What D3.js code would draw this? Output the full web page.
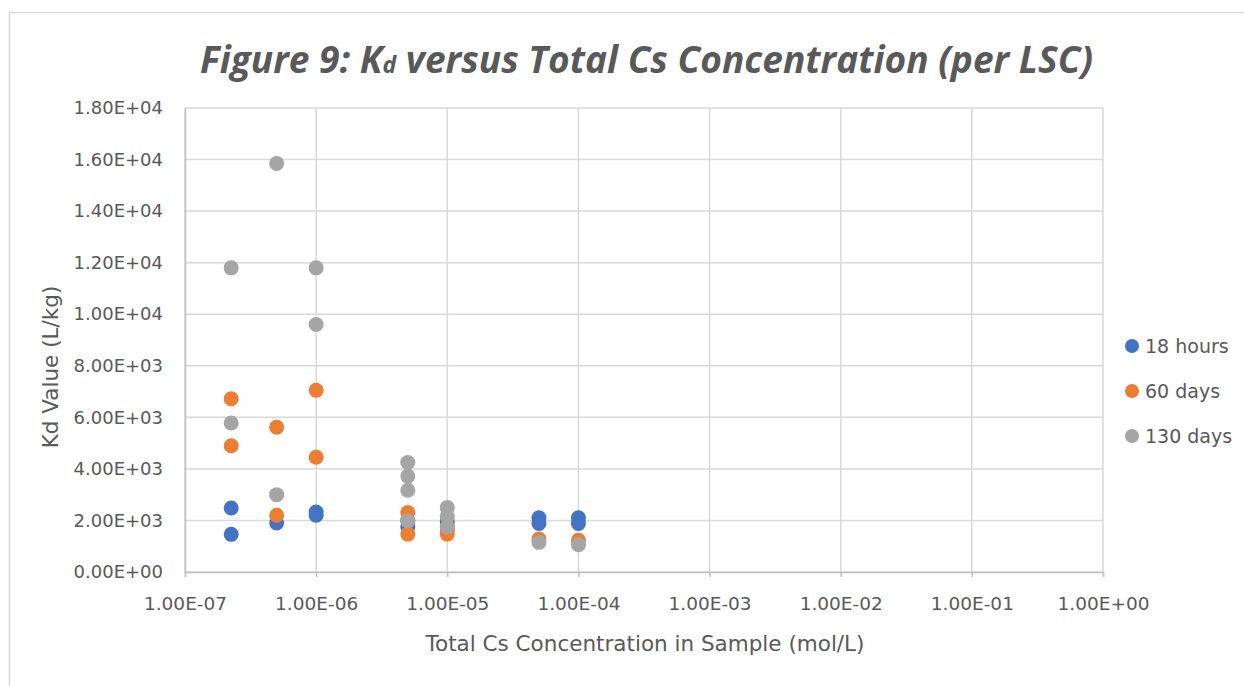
<!DOCTYPE html>
<html><head><meta charset="utf-8">
<script src="https://cdn.jsdelivr.net/npm/d3@7"></script>
<style>body{margin:0;background:#fff;} svg{display:block;}</style>
</head><body>
<svg id="chart" width="1244" height="686"></svg>
<script>
// ---- data ----
const xTicks = [1e-7, 1e-6, 1e-5, 1e-4, 1e-3, 1e-2, 1e-1, 1e0];
const xTickLabels = ["1.00E-07","1.00E-06","1.00E-05","1.00E-04","1.00E-03","1.00E-02","1.00E-01","1.00E+00"];
const yTicks = [0,2000,4000,6000,8000,10000,12000,14000,16000,18000];
const yTickLabels = ["0.00E+00","2.00E+03","4.00E+03","6.00E+03","8.00E+03","1.00E+04","1.20E+04","1.40E+04","1.60E+04","1.80E+04"];
const seriesNames = ["18 hours","60 days","130 days"];
const seriesColors = ["#4472C4","#ED7D31","#A5A5A5"];

const hours18X = [2.25e-7,2.25e-7,5e-7,1e-6,1e-6,5e-6,5e-6,1e-5,1e-5,5e-5,5e-5,1e-4,1e-4];
const hours18Y = [2480,1460,1900,2330,2200,1750,2000,1950,1750,2100,1880,2100,1880];
const days60X  = [2.25e-7,2.25e-7,5e-7,5e-7,1e-6,1e-6,5e-6,5e-6,1e-5,1e-5,5e-5,1e-4];
const days60Y  = [6720,4900,5620,2200,7050,4450,2310,1470,1470,1600,1280,1230];
const days130X = [2.25e-7,2.25e-7,5e-7,5e-7,1e-6,1e-6,5e-6,5e-6,5e-6,5e-6,1e-5,1e-5,1e-5,5e-5,1e-4];
const days130Y = [11800,5780,15850,3000,11800,9600,4250,3720,3170,1980,2500,2150,1750,1150,1060];

const title = "Figure 9: K";
const titleSub = "d";
const titleRest = " versus Total Cs Concentration (per LSC)";
const xTitle = "Total Cs Concentration in Sample (mol/L)";
const yTitle = "Kd Value (L/kg)";

// ---- layout ----
const svg = d3.select("#chart");
const L = 185, R = 1103, T = 108, B = 572;
const x = d3.scaleLog().domain([1e-7, 1]).range([L, R]);
const y = d3.scaleLinear().domain([0, 18000]).range([B, T]);
const textColor = "#595959";
const font = "'DejaVu Sans', sans-serif";
const titleFont = "'Open Sans', sans-serif";

// chart border
svg.append("rect").attr("x", 9.5).attr("y", 12.5).attr("width", 1300).attr("height", 800)
  .attr("fill", "none").attr("stroke", "#D9D9D9").attr("stroke-width", 1.5);

// gridlines
svg.append("g").selectAll("line").data(yTicks).join("line")
  .attr("x1", L).attr("x2", R).attr("y1", d => y(d)).attr("y2", d => y(d))
  .attr("stroke", "#D9D9D9").attr("stroke-width", 1.5);
svg.append("g").selectAll("line").data(xTicks).join("line")
  .attr("x1", d => x(d)).attr("x2", d => x(d)).attr("y1", T).attr("y2", B)
  .attr("stroke", "#D9D9D9").attr("stroke-width", 1.5);

// axes
const xAxis = d3.axisBottom(x).tickValues(xTicks).tickFormat((d,i) => xTickLabels[i]).tickSize(5).tickPadding(20);
const gx = svg.append("g").attr("transform", `translate(0,${B})`).call(xAxis);
gx.select(".domain").attr("stroke", "#BFBFBF").attr("stroke-width", 1.5);
gx.selectAll(".tick line").attr("stroke", "#BFBFBF").attr("stroke-width", 1.5);
gx.selectAll("text").attr("fill", textColor).style("font-family", font).style("font-size", "18.5px");

const yAxis = d3.axisLeft(y).tickValues(yTicks).tickFormat((d,i) => yTickLabels[i]).tickSizeInner(0).tickSizeOuter(0).tickPadding(22);
const gy = svg.append("g").attr("transform", `translate(${L},0)`).call(yAxis);
gy.select(".domain").attr("stroke", "#BFBFBF").attr("stroke-width", 1.5);
gy.selectAll("text").attr("fill", textColor).style("font-family", font).style("font-size", "18px");

// points
const series = [
  {xs: hours18X, ys: hours18Y},
  {xs: days60X, ys: days60Y},
  {xs: days130X, ys: days130Y}
];
series.forEach((s, i) => {
  const pts = s.xs.map((v, j) => [v, s.ys[j]]);
  svg.append("g").selectAll("circle").data(pts).join("circle")
    .attr("cx", d => x(d[0])).attr("cy", d => y(d[1])).attr("r", 7.5)
    .attr("fill", seriesColors[i]);
});

// title
const t = svg.append("text").attr("x", 200).attr("y", 73)
  .attr("textLength", 893).attr("lengthAdjust", "spacingAndGlyphs")
  .attr("fill", textColor).style("font-family", titleFont).style("font-size", "37px")
  .style("font-weight", "700").style("font-style", "italic");
t.append("tspan").text(title);
t.append("tspan").text(titleSub).style("font-size", "23px");
t.append("tspan").text(titleRest);

// axis titles
svg.append("text").attr("x", 645).attr("y", 651).attr("text-anchor", "middle")
  .attr("fill", textColor).style("font-family", font).style("font-size", "21.5px").text(xTitle);
svg.append("text").attr("transform", "translate(58,367) rotate(-90)").attr("text-anchor", "middle")
  .attr("fill", textColor).style("font-family", font).style("font-size", "21.5px").text(yTitle);

// legend
const lg = svg.append("g");
seriesNames.forEach((n, i) => {
  const cy = 346 + i * 45;
  lg.append("circle").attr("cx", 1132).attr("cy", cy).attr("r", 7).attr("fill", seriesColors[i]);
  lg.append("text").attr("x", 1145).attr("y", cy + 7).attr("fill", textColor)
    .style("font-family", font).style("font-size", "19px").text(n);
});
</script>
</body></html>
